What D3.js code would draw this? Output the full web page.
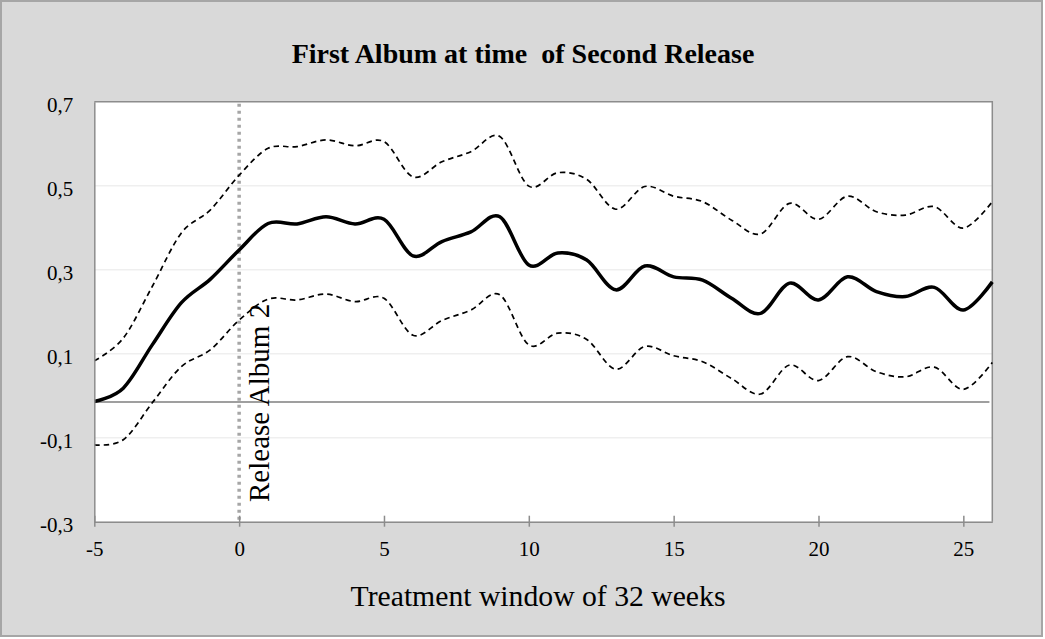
<!DOCTYPE html>
<html>
<head>
    <title>First Album at time of Second Release</title>
    <script src="https://d3js.org/d3.v7.min.js"></script>
    <style>
        body { margin: 0; background: #fff; }
        text { font-family: "Liberation Serif", "Times New Roman", serif; fill: #000; }
        .tick-label { font-size: 21px; }
        .chart-title { font-size: 28px; font-weight: bold; white-space: pre; }
        .axis-title { font-size: 29.7px; }
        .marker-label { font-size: 29px; }
    </style>
</head>
<body>
    <div id="chart"></div>
    <script>
	const weeks = [-5, -4, -3, -2, -1, 0, 1, 2, 3, 4, 5, 6, 7, 8, 9, 10,
	    11, 12, 13, 14, 15, 16, 17, 18, 19, 20, 21, 22, 23, 24, 25, 26];
	const estimate = [-0.014, 0.018, 0.121, 0.221, 0.277, 0.347, 0.410, 0.409, 0.426, 0.409, 0.420, 0.333,
	    0.367, 0.390, 0.426, 0.311, 0.340, 0.323, 0.252, 0.309, 0.283, 0.275, 0.232, 0.196,
	    0.268, 0.228, 0.283, 0.248, 0.236, 0.258, 0.204, 0.271];
	const upperBound = [0.083, 0.137, 0.260, 0.387, 0.442, 0.525, 0.589, 0.593, 0.609, 0.595, 0.605, 0.521,
	    0.557, 0.581, 0.617, 0.499, 0.531, 0.515, 0.444, 0.498, 0.475, 0.462, 0.418, 0.385,
	    0.458, 0.420, 0.475, 0.438, 0.430, 0.450, 0.399, 0.462];
	const lowerBound = [-0.117, -0.105, -0.017, 0.069, 0.109, 0.180, 0.230, 0.228, 0.242, 0.224, 0.232, 0.144,
	    0.179, 0.204, 0.240, 0.121, 0.149, 0.134, 0.063, 0.117, 0.095, 0.081, 0.041, 0.004,
	    0.073, 0.036, 0.093, 0.057, 0.045, 0.068, 0.015, 0.079];
	const baseline = -0.015;
	const releaseWeek = 0;
	const xTicks = [-5, 0, 5, 10, 15, 20, 25];
	const yTicks = [-0.3, -0.1, 0.1, 0.3, 0.5, 0.7];

	const W = 1045, H = 639;
	const plot = {left: 94.3, right: 992.3, top: 101.7, bottom: 521.7};

	const x = d3.scaleLinear().domain([-5, 26]).range([plot.left, plot.right]);
	const y = d3.scaleLinear().domain([-0.3, 0.7]).range([plot.bottom, plot.top]);
	const fmt = d => d3.format(".1f")(d).replace(".", ",").replace("−", "-");

	const svg = d3.select("#chart").append("svg")
	    .attr("width", W)
	    .attr("height", H);

	// chart area
	svg.append("rect")
	    .attr("x", 1).attr("y", 1)
	    .attr("width", 1041).attr("height", 635)
	    .attr("fill", "#d9d9d9")
	    .attr("stroke", "#a6a6a6")
	    .attr("stroke-width", 2);

	// plot area
	svg.append("rect")
	    .attr("x", plot.left).attr("y", plot.top)
	    .attr("width", plot.right - plot.left).attr("height", plot.bottom - plot.top)
	    .attr("fill", "#fff");

	svg.append("g")
	    .selectAll("line")
	    .data(yTicks.filter(d => d > -0.3 && d < 0.7))
	    .enter().append("line")
	        .attr("x1", plot.left).attr("x2", plot.right)
	        .attr("y1", d => y(d)).attr("y2", d => y(d))
	        .attr("stroke", "#efefef")
	        .attr("stroke-width", 1.5);

	// plot border (top/right)
	svg.append("path")
	    .attr("d", `M${plot.left},${plot.top}H${plot.right}V${plot.bottom}`)
	    .attr("fill", "none")
	    .attr("stroke", "#8c8c8c")
	    .attr("stroke-width", 1.5);

	// baseline
	svg.append("line")
	    .attr("x1", x(-5)).attr("x2", x(25.9))
	    .attr("y1", y(baseline)).attr("y2", y(baseline))
	    .attr("stroke", "#7f7f7f")
	    .attr("stroke-width", 1.5);

	// release marker
	svg.append("line")
	    .attr("x1", x(releaseWeek)).attr("x2", x(releaseWeek))
	    .attr("y1", plot.top + 2).attr("y2", plot.bottom)
	    .attr("stroke", "#a6a6a6")
	    .attr("stroke-width", 3.5)
	    .attr("stroke-dasharray", "3,4");

	svg.append("text")
	    .attr("class", "marker-label")
	    .attr("transform", `translate(${x(releaseWeek) + 30},502) rotate(-90)`)
	    .text("Release Album 2");

	const line = d3.line()
	    .x((d, i) => x(weeks[i]))
	    .y(d => y(d))
	    .curve(d3.curveCardinal.tension(0));

	[upperBound, lowerBound].forEach(series => {
	    svg.append("path")
	        .attr("d", line(series))
	        .attr("fill", "none")
	        .attr("stroke", "#000")
	        .attr("stroke-width", 1.7)
	        .attr("stroke-dasharray", "5.5,4");
	});

	svg.append("path")
	    .attr("d", line(estimate))
	    .attr("fill", "none")
	    .attr("stroke", "#000")
	    .attr("stroke-width", 3.5);

	// axes
	const xAxis = d3.axisBottom(x).tickValues(xTicks).tickSizeInner(5).tickSizeOuter(0).tickFormat(d3.format("d"));
	const gx = svg.append("g")
	    .attr("transform", `translate(0,${plot.bottom})`)
	    .call(xAxis);
	gx.select(".domain").attr("stroke", "#8c8c8c").attr("stroke-width", 1.5);
	gx.selectAll(".tick line").attr("stroke", "#8c8c8c").attr("stroke-width", 1.5).attr("y1", -6);
	gx.selectAll(".tick text")
	    .attr("class", "tick-label")
	    .attr("y", 34).attr("dy", null)
	    .text(d => String(d));

	const yAxis = d3.axisLeft(y).tickValues(yTicks).tickSize(0).tickPadding(21).tickFormat(fmt);
	const gy = svg.append("g")
	    .attr("transform", `translate(${plot.left},0)`)
	    .call(yAxis);
	gy.select(".domain").attr("stroke", "#8c8c8c").attr("stroke-width", 1.5);
	gy.selectAll(".tick text")
	    .attr("class", "tick-label")
	    .attr("dy", null).attr("y", 9.5);
	svg.selectAll("g").attr("font-family", null).attr("font-size", null);

	svg.append("text")
	    .attr("class", "chart-title")
	    .attr("x", 523).attr("y", 63)
	    .attr("text-anchor", "middle")
	    .text("First Album at time  of Second Release");

	svg.append("text")
	    .attr("class", "axis-title")
	    .attr("x", 538).attr("y", 606)
	    .attr("text-anchor", "middle")
	    .text("Treatment window of 32 weeks");
    </script>
</body>
</html>
